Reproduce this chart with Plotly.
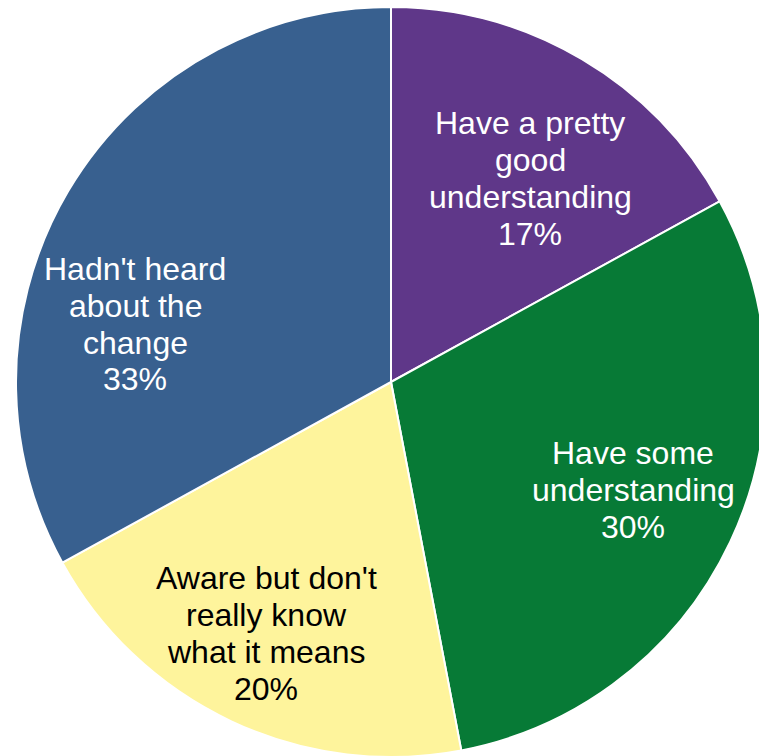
import plotly.graph_objects as go

label_lines = [["Have a pretty", "good", "understanding"],
               ["Have some", "understanding"],
               ["Aware but don't", "really know", "what it means"],
               ["Hadn't heard", "about the", "change"]]
labels = [" ".join(l) for l in label_lines]
values = [17, 30, 20, 33]
colors = ["#5F3789", "#077A36", "#FEF49C", "#38608F"]
text_colors = ["white", "white", "black", "white"]
# label block centres in pixels
label_px = [530, 633, 266, 135]
label_py = [178.5, 490, 633, 324]

W, H = 782, 764
L, T = 16, 7
D = 750
LINE = 37

total = sum(values)
fig = go.Figure(go.Pie(
    labels=labels, values=values, sort=False, direction="clockwise", rotation=0,
    marker=dict(colors=colors, line=dict(color="white", width=2)),
    textinfo="none", hoverinfo="skip", showlegend=False,
))
for lines, v, c, px, py in zip(label_lines, values, text_colors, label_px, label_py):
    all_lines = lines + [f"{round(100 * v / total)}%"]
    n = len(all_lines)
    for k, s in enumerate(all_lines):
        y_pix = py + (k - (n - 1) / 2) * LINE
        fig.add_annotation(x=(px - L) / D, y=1 - (y_pix - T) / D, xref="paper", yref="paper",
                           showarrow=False, text=s, xanchor="center", yanchor="middle",
                           font=dict(family="Liberation Sans, Arial", size=32, color=c))
fig.update_layout(width=W, height=H, margin=dict(l=L, r=W - L - D, t=T, b=H - T - D),
                  paper_bgcolor="white", plot_bgcolor="white")
fig.write_html("out.html")
